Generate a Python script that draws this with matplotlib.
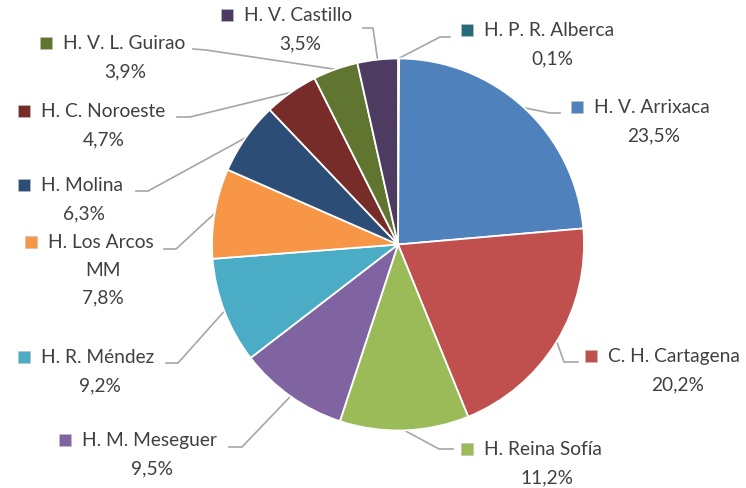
import numpy as np
import matplotlib
matplotlib.use('Agg')
import matplotlib.pyplot as plt

# datos
hospitales = ['H. P. R. Alberca', 'H. V. Arrixaca', 'C. H. Cartagena', 'H. Reina Sofía',
              'H. M. Meseguer', 'H. R. Méndez', 'H. Los Arcos\nMM', 'H. Molina',
              'H. C. Noroeste', 'H. V. L. Guirao', 'H. V. Castillo']
porcentajes = [0.1, 23.5, 20.2, 11.2, 9.5, 9.2, 7.8, 6.3, 4.7, 3.9, 3.5]
colores = ['#276A7C', '#4F81BD', '#C0504D', '#9BBB59', '#8064A2', '#4BACC6',
           '#F79646', '#2C4D75', '#772C2A', '#5F7530', '#4D3B62']
separar = [0, 0.022, 0.022, 0, 0, 0, 0, 0, 0, 0, 0]

W, H = 746, 489
centro = (398, H - 245.5)
radio = 186

# posiciones de las etiquetas (pixeles desde arriba): marcador x, y de la primera linea,
# centro del porcentaje, codo de la linea guia
etiquetas = [
    (467, 31, 552, (450, 38), (440, 38)),
    (577, 108, 654, (560, 114), (550, 114)),
    (591, 357, 678, (578, 363), (564, 363)),
    (467, 450, 547, (453, 450), (439, 450)),
    (65, 441, 152, (229, 448), (242, 448)),
    (24, 358, 100, (166, 364), (178, 364)),
    (31, 243, 103, (164, 250), (176, 250)),
    (24, 186, 84, (136, 192), (148, 192)),
    (24, 112, 104, (177, 118), (190, 118)),
    (46, 44, 125, (193, 50), (206, 51)),
    (227, 16, 300, (363, 29), (373, 29)),
]

plt.rcParams['font.family'] = ['Lato', 'DejaVu Sans']
gris_texto = '#404040'
gris_linea = '#A6A6A6'

fig = plt.figure(figsize=(W / 100, H / 100), dpi=100)
ax = fig.add_axes([0, 0, 1, 1])
ax.axis('off')

wedges, _ = ax.pie(porcentajes, colors=colores, startangle=90, counterclock=False,
                   center=centro, radius=radio, explode=separar,
                   wedgeprops=dict(edgecolor='white', linewidth=1.3))
ax.set_xlim(0, W)
ax.set_ylim(0, H)
ax.set_aspect('equal')

for w, nombre, pct, col, (mx, my, px, p1, p2) in zip(wedges, hospitales, porcentajes, colores, etiquetas):
    # punto de la linea guia sobre el borde del sector
    ang = np.deg2rad((w.theta1 + w.theta2) / 2)
    cx, cy = w.center
    ex = cx + w.r * np.cos(ang)
    ey = cy + w.r * np.sin(ang)
    ax.plot([p1[0], p2[0], ex], [H - p1[1], H - p2[1], ey], color=gris_linea, lw=1.2,
            solid_joinstyle='miter', zorder=0)

    lineas = nombre.split('\n')
    ax.scatter([mx], [H - my], marker='s', s=78, color=col, edgecolors='#bfbfbf',
               linewidths=0.4, zorder=3)
    ax.text(mx + 17, H - my, lineas[0], fontsize=13.8, color=gris_texto,
            ha='left', va='center')
    y = my
    for extra in lineas[1:]:
        y += 27.5
        ax.text(px, H - y, extra, fontsize=13.8, color=gris_texto, ha='center', va='center')
    y += 27.5
    ax.text(px, H - y, f"{pct:.1f}%".replace('.', ','), fontsize=13.8, color=gris_texto,
            ha='center', va='center')

fig.savefig('out.png', dpi=100)
